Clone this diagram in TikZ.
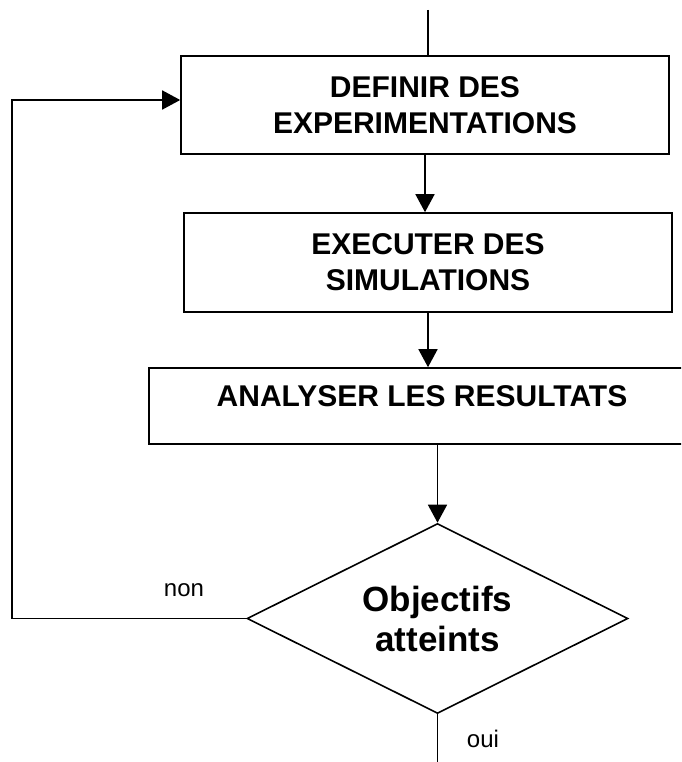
\documentclass[tikz,border=0pt]{standalone}
\usepackage{fontspec}
\setmainfont{Liberation Sans}
\usetikzlibrary{arrows.meta,positioning,calc,shapes.geometric}
\tikzset{
  arr/.style={-{Triangle[length=18pt,width=19pt]},line width=1.6pt},
  link/.style={line width=1.6pt},
  box/.style={draw,line width=1.6pt,inner sep=0pt,align=center,font=\fontsize{30}{36}\selectfont\bfseries},
  decision/.style={draw,diamond,aspect=2,line width=1.6pt,inner sep=0pt,minimum width=381pt,minimum height=190pt,align=center,font=\fontsize{35}{40}\selectfont\bfseries},
  lab/.style={font=\fontsize{24}{28}\selectfont}
}

\begin{document}
\begin{tikzpicture}[x=1pt,y=-1pt]
  \clip (0,0) rectangle (681,762);
  % steps of the loop
  \node[box,minimum width=488pt,minimum height=98pt] (define) at (425,105) {DEFINIR DES\\EXPERIMENTATIONS};
  \node[box,minimum width=488pt,minimum height=99pt] (run) at (428,262.5) {EXECUTER DES\\SIMULATIONS};
  \node[box,minimum width=546pt,minimum height=76pt,text height=22pt,text depth=22pt] (analyse) at (422,406) {ANALYSER LES RESULTATS};
  \node[decision] (goal) at (437.5,618.5) {Objectifs\\atteints};
  % free ends
  \coordinate (in) at (428,10);
  \coordinate (out) at (437.5,762);
  \coordinate (back) at (12,100);
  \draw[link] (in) -- (in |- define.north);
  \draw[arr] (define) -- (define |- run.north);
  \draw[arr] (run) -- (run |- analyse.north);
  \draw[arr] (goal |- analyse.south) -- (goal.north);
  \draw[link] (goal.south) -- (out);
  \draw[arr] (goal.west) -| (back) -- (back -| define.west);
  \node[lab] (no) at (184,590) {non};
  \node[lab] (yes) at (483,739) {oui};
\end{tikzpicture}
\end{document}
